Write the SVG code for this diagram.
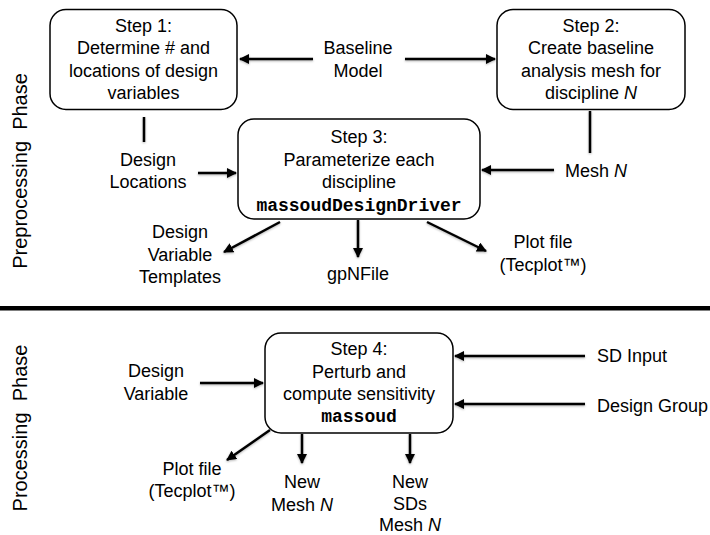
<svg xmlns="http://www.w3.org/2000/svg" width="710" height="535" viewBox="0 0 710 535">
<style>
text{font-family:"Liberation Sans",Arial,sans-serif;font-size:18px;fill:#000;text-anchor:middle}
.mono{font-family:"Liberation Mono","Courier New",monospace;font-weight:bold;font-size:18px}
.side{font-size:20px}
.box{fill:#fff;stroke:#000;stroke-width:1.5}
.ln{stroke:#000;stroke-width:2.5;fill:none}
.ar{marker-end:url(#ah)}
.lbl{text-anchor:start}
</style>
<defs>
<marker id="ah" viewBox="0 0 10 10" refX="9" refY="5" markerWidth="4" markerHeight="4" orient="auto" markerUnits="strokeWidth">
<path d="M0,0 L10,5 L0,10 Z" fill="#000"/>
</marker>
<filter id="sh" filterUnits="userSpaceOnUse" x="0" y="0" width="710" height="535">
<feDropShadow dx="0" dy="1" stdDeviation="1" flood-color="#000" flood-opacity="0.3"/>
</filter>
</defs>
<rect width="710" height="535" fill="#fff"/>

<g id="phase-labels">
<text class="side" transform="translate(27,171) rotate(-90)" xml:space="preserve">Preprocessing  Phase</text>
<text class="side" transform="translate(27,428) rotate(-90)" xml:space="preserve">Processing  Phase</text>
<rect x="0" y="306" width="710" height="4.5" fill="#000"/>
</g>

<g id="connectors" filter="url(#sh)">
<line class="ln ar" x1="313" y1="59" x2="240" y2="59"/>
<line class="ln ar" x1="405" y1="59" x2="495" y2="59"/>
<line class="ln" x1="144" y1="117" x2="144" y2="142"/>
<line class="ln" x1="590" y1="111" x2="590" y2="153"/>
<line class="ln ar" x1="198" y1="173" x2="236" y2="173"/>
<line class="ln ar" x1="554" y1="170" x2="482" y2="170"/>
<line class="ln ar" x1="280" y1="222" x2="224" y2="252"/>
<line class="ln ar" x1="358" y1="220" x2="358" y2="257"/>
<line class="ln ar" x1="427" y1="222" x2="486" y2="251"/>
<line class="ln ar" x1="200" y1="383" x2="263" y2="383"/>
<line class="ln ar" x1="585" y1="356" x2="455" y2="356"/>
<line class="ln ar" x1="585" y1="404" x2="455" y2="404"/>
<line class="ln ar" x1="270" y1="430" x2="227" y2="460"/>
<line class="ln ar" x1="302" y1="434" x2="302" y2="463"/>
<line class="ln ar" x1="410" y1="434" x2="410" y2="463"/>
</g>

<g id="step1">
<rect class="box" x="50" y="9.5" width="187" height="100" rx="16"/>
<text x="143.5" y="31.5">Step 1:</text>
<text x="143.5" y="54">Determine # and</text>
<text x="143.5" y="76.5">locations of design</text>
<text x="143.5" y="99">variables</text>
</g>

<g id="baseline-model">
<text x="358" y="54">Baseline</text>
<text x="358" y="76.5">Model</text>
</g>

<g id="step2">
<rect class="box" x="497" y="9.5" width="188" height="100" rx="16"/>
<text x="591" y="31.5">Step 2:</text>
<text x="591" y="54">Create baseline</text>
<text x="591" y="76.5">analysis mesh for</text>
<text x="591" y="99">discipline <tspan font-style="italic">N</tspan></text>
</g>

<g id="step3">
<rect class="box" x="238" y="119" width="242" height="100" rx="16"/>
<text x="359" y="143">Step 3:</text>
<text x="359" y="165.5">Parameterize each</text>
<text x="359" y="188">discipline</text>
<text class="mono" x="359" y="210.5">massoudDesignDriver</text>
</g>

<g id="design-locations">
<text x="148" y="166">Design</text>
<text x="148" y="188">Locations</text>
</g>

<g id="mesh-n">
<text class="lbl" x="565" y="177">Mesh <tspan font-style="italic">N</tspan></text>
</g>

<g id="dv-templates">
<text x="180" y="238">Design</text>
<text x="180" y="260.5">Variable</text>
<text x="180" y="283">Templates</text>
</g>

<g id="gpnfile">
<text x="358" y="280">gpNFile</text>
</g>

<g id="plotfile1">
<text x="543" y="248">Plot file</text>
<text x="543" y="271">(Tecplot™)</text>
</g>

<g id="step4">
<rect class="box" x="265" y="333" width="188" height="100" rx="16"/>
<text x="359" y="355">Step 4:</text>
<text x="359" y="377.5">Perturb and</text>
<text x="359" y="400">compute sensitivity</text>
<text class="mono" x="359" y="422">massoud</text>
</g>

<g id="design-variable">
<text x="156" y="377">Design</text>
<text x="156" y="400">Variable</text>
</g>

<g id="sd-input">
<text class="lbl" x="597" y="362">SD Input</text>
</g>

<g id="design-group">
<text class="lbl" x="597" y="412">Design Group</text>
</g>

<g id="plotfile2">
<text x="192" y="475">Plot file</text>
<text x="192" y="497">(Tecplot™)</text>
</g>

<g id="new-mesh">
<text x="302" y="488">New</text>
<text x="302" y="511">Mesh <tspan font-style="italic">N</tspan></text>
</g>

<g id="new-sds">
<text x="410" y="488">New</text>
<text x="410" y="510">SDs</text>
<text x="410" y="531">Mesh <tspan font-style="italic">N</tspan></text>
</g>
</svg>
